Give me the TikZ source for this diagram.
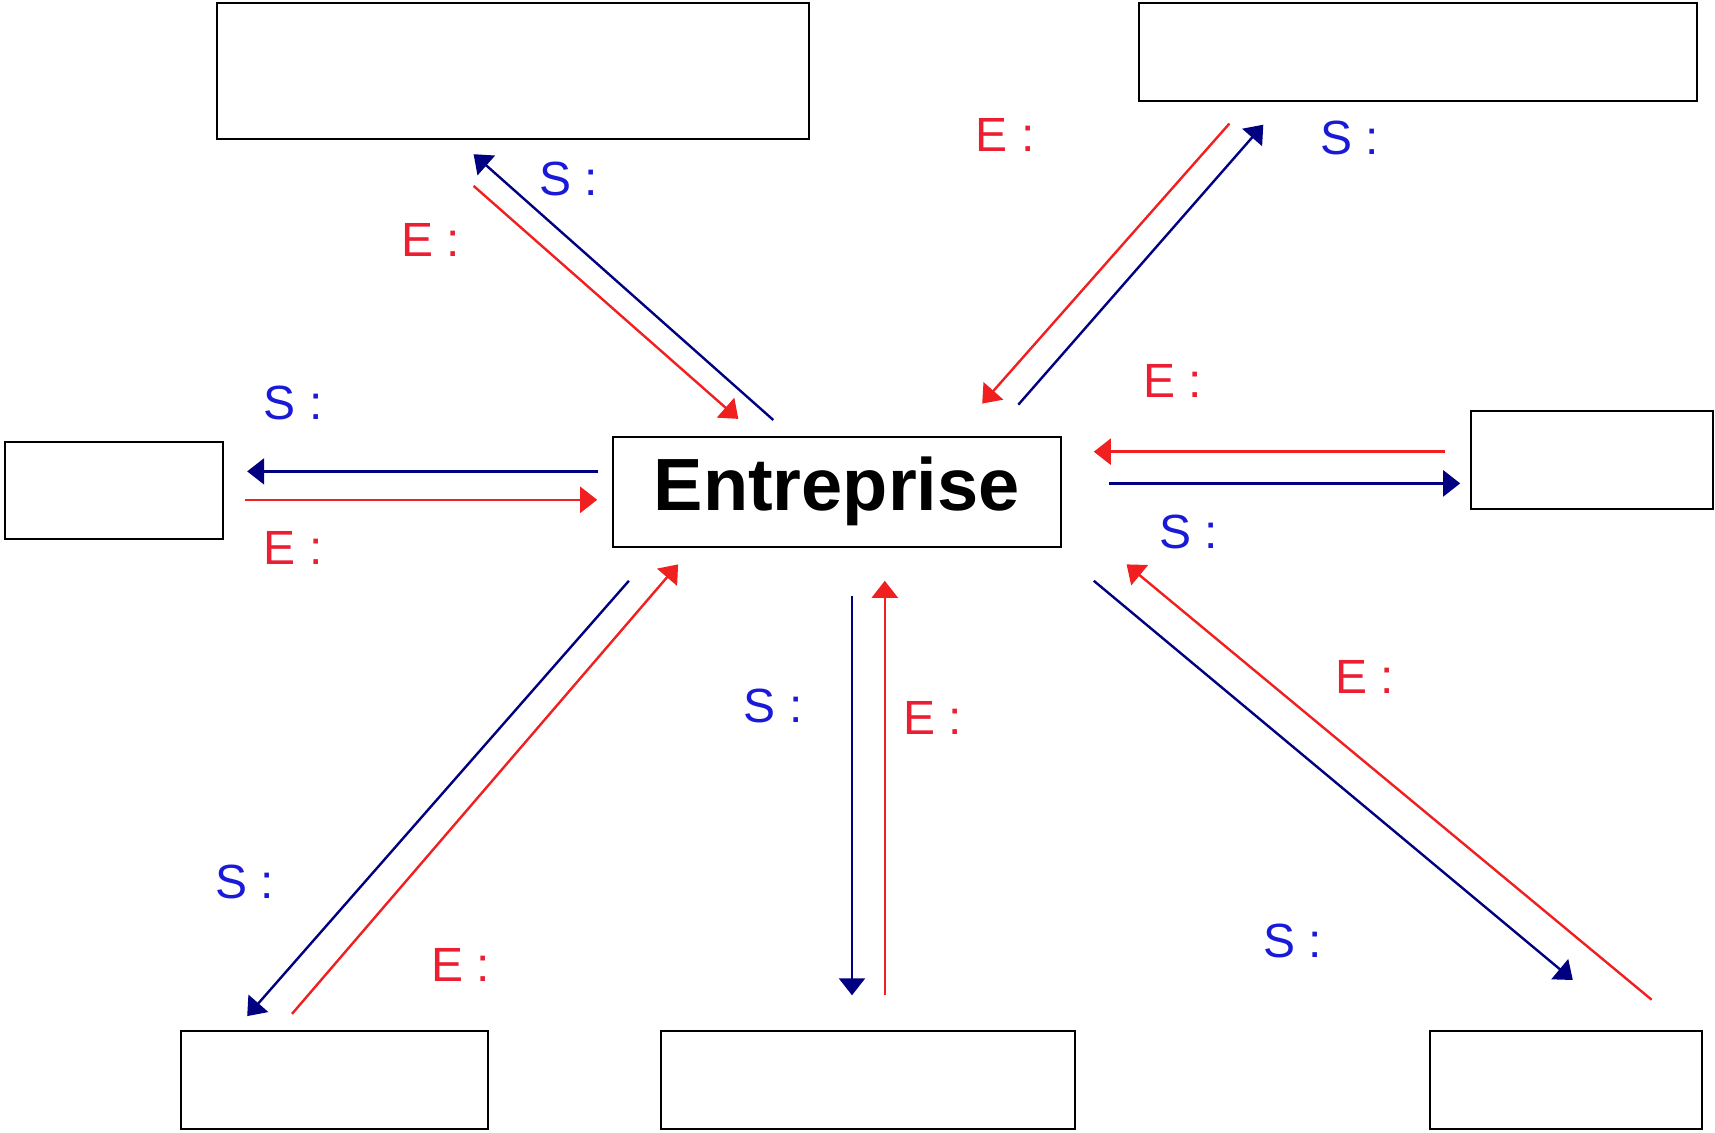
\documentclass[tikz,border=0pt]{standalone}
\usepackage{fontspec}
\setmainfont{Liberation Sans}
\usepackage{xcolor}
\usetikzlibrary{arrows.meta, positioning}

\definecolor{sortieline}{RGB}{0,0,128}
\definecolor{sortietext}{RGB}{25,25,215}
\definecolor{entreeline}{RGB}{240,32,32}
\definecolor{entreetext}{RGB}{235,30,50}

\begin{document}
\begin{tikzpicture}[
    x=0.5pt, y=-0.5pt,
    box/.style={draw, rectangle, line width=1pt, inner sep=0pt},
    arrow/.style={line width=1.2pt, -{Triangle[length=8.5pt, width=13pt]}},
    sortie/.style={arrow, draw=sortieline, fill=sortieline},
    entree/.style={arrow, draw=entreeline, fill=entreeline},
    slabel/.style={text=sortietext, font=\fontsize{24}{26}\selectfont},
    elabel/.style={text=entreetext, font=\fontsize{24}{26}\selectfont}
]
\useasboundingbox (0,0) rectangle (1715,1133);

% Central box
\node[box, minimum width=224pt, minimum height=55pt, font=\bfseries\fontsize{37}{39}\selectfont] (ent) at (836.7,491.7) {Entreprise};

% Surrounding boxes (left empty)
\node[box, minimum width=296pt, minimum height=68pt] (tl) at (512.5,71.1) {};
\node[box, minimum width=279pt, minimum height=48.6pt] (tr) at (1417.5,52) {};
\node[box, minimum width=109pt, minimum height=48.6pt] (lt) at (113.8,490.6) {};
\node[box, minimum width=121pt, minimum height=48.6pt] (rt) at (1592,460) {};
\node[box, minimum width=153.6pt, minimum height=48.7pt] (bl) at (334.2,1080.1) {};
\node[box, minimum width=207.3pt, minimum height=48.7pt] (bc) at (867.9,1080.1) {};
\node[box, minimum width=136.2pt, minimum height=48.7pt] (br) at (1565.7,1080.1) {};

% Arrow ends
\coordinate (tlSa) at (773.3,420);   \coordinate (tlSb) at (473.6,154.2);
\coordinate (tlEa) at (473.6,185.9); \coordinate (tlEb) at (738.3,418.9);
\coordinate (trEa) at (1229.4,123.6);\coordinate (trEb) at (982.2,403.6);
\coordinate (trSa) at (1018.3,404.7);\coordinate (trSb) at (1263.3,124.7);
\coordinate (ltSa) at (598.3,471.4); \coordinate (ltSb) at (247.2,471.4);
\coordinate (ltEa) at (245,499.8);   \coordinate (ltEb) at (597.2,499.8);
\coordinate (rtEa) at (1444.8,451.7);\coordinate (rtEb) at (1093.8,451.7);
\coordinate (rtSa) at (1109,483.4);  \coordinate (rtSb) at (1460.2,483.4);
\coordinate (blSa) at (628.9,580.8); \coordinate (blSb) at (247.2,1016.1);
\coordinate (blEa) at (292,1013.9);  \coordinate (blEb) at (678.1,564.4);
\coordinate (bcSa) at (852,596.1);   \coordinate (bcSb) at (852,995.3);
\coordinate (bcEa) at (884.8,995.3); \coordinate (bcEb) at (884.8,580.8);
\coordinate (brSa) at (1093.8,580.8);\coordinate (brSb) at (1572.8,980);
\coordinate (brEa) at (1651.6,999.7);\coordinate (brEb) at (1126.6,564.4);

% Flows
\draw[sortie] (tlSa) -- (tlSb);
\draw[entree] (tlEa) -- (tlEb);
\draw[entree] (trEa) -- (trEb);
\draw[sortie] (trSa) -- (trSb);
\draw[sortie] (ltSa) -- (ltSb);
\draw[entree] (ltEa) -- (ltEb);
\draw[entree] (rtEa) -- (rtEb);
\draw[sortie] (rtSa) -- (rtSb);
\draw[sortie] (blSa) -- (blSb);
\draw[entree] (blEa) -- (blEb);
\draw[sortie] (bcSa) -- (bcSb);
\draw[entree] (bcEa) -- (bcEb);
\draw[sortie] (brSa) -- (brSb);
\draw[entree] (brEa) -- (brEb);

% Labels
\node[slabel] (tlS) at (568.8,179.4) {S :};
\node[elabel] (tlE) at (431,239.5) {E :};
\node[elabel] (trE) at (1005.2,134.5) {E :};
\node[slabel] (trS) at (1349.7,137.8) {S :};
\node[slabel] (ltS) at (293.1,402.5) {S :};
\node[elabel] (ltE) at (293.1,548) {E :};
\node[elabel] (rtE) at (1172.5,380.6) {E :};
\node[slabel] (rtS) at (1188.9,531.6) {S :};
\node[slabel] (blS) at (245,881.6) {S :};
\node[elabel] (blE) at (460.5,964.7) {E :};
\node[slabel] (bcS) at (773.3,705.5) {S :};
\node[elabel] (bcE) at (933,717.5) {E :};
\node[elabel] (brE) at (1365,677) {E :};
\node[slabel] (brS) at (1292.8,940.6) {S :};

\end{tikzpicture}
\end{document}
